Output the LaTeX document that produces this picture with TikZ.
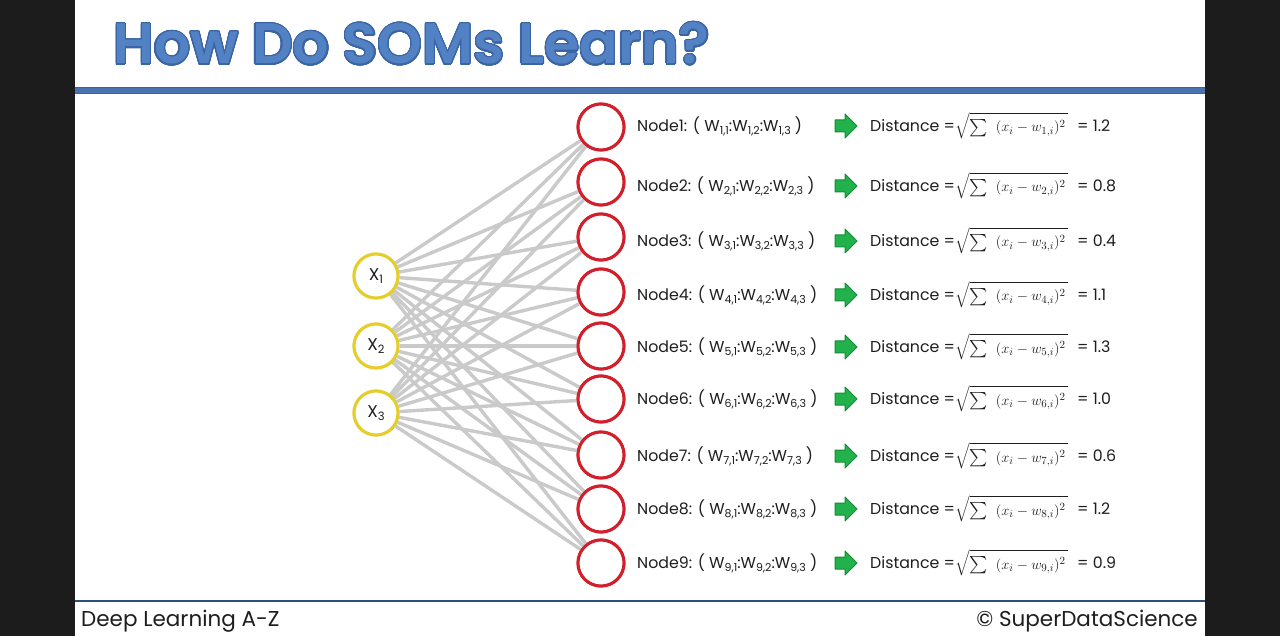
\documentclass[tikz,border=0pt]{standalone}
\usepackage{fontspec}
\usepackage{amsmath}
\usepackage{contour}
\setmainfont{Poppins}
\newfontfamily\titlefont{Poppins SemiBold}
\definecolor{titleblue}{HTML}{5282C4}
\definecolor{titleedge}{HTML}{3A64A3}
\definecolor{rulecol}{HTML}{4A73B2}
\definecolor{footrule}{HTML}{2F4E7E}
\definecolor{edgegrey}{HTML}{CACACA}
\definecolor{inyellow}{HTML}{E6CE2A}
\definecolor{outred}{HTML}{D21F2B}
\definecolor{arrgreen}{HTML}{22B24C}
\definecolor{arredge}{HTML}{188A37}
\definecolor{txt}{HTML}{1E1E1E}
\contourlength{1.2pt}
\contournumber{24}
\newcommand{\wsb}[1]{W\raisebox{-0.35ex}{\fontsize{11}{12}\selectfont #1}}
\newcommand{\xsb}[1]{X\raisebox{-0.4ex}{\fontsize{11.5}{12}\selectfont #1}}
\newcommand{\bigsum}{\mbox{\fontsize{19}{20}\selectfont$\sum$}}
\newcommand{\distf}[1]{$\sqrt{\vrule height 15pt depth 5pt width 0pt\bigsum\ \;(x_i - w_{#1,i})^2\,}$}
\tikzset{
  innode/.style={circle, draw=inyellow, line width=3pt, fill=white, minimum size=44pt, inner sep=0pt, font=\fontsize{17}{18}\selectfont, text=txt},
  outnode/.style={circle, draw=outred, line width=3pt, fill=white, minimum size=46pt, inner sep=0pt},
  link/.style={draw=edgegrey, line width=3.4pt},
  lbl/.style={anchor=west, inner sep=0pt, font=\fontsize{15.8}{17}\selectfont, text=txt},
  gar/.style={fill=arrgreen, draw=arredge, line width=1pt, line join=round}
}
\begin{document}
\begin{tikzpicture}[x=1pt,y=-1pt]
\useasboundingbox (0,0) rectangle (1280,636);
\fill[white] (0,0) rectangle (1280,636);
\fill[black!89] (0,0) rectangle (75,636);
\fill[black!89] (1205,0) rectangle (1280,636);
% title
\node[anchor=base west, inner sep=0pt, font=\titlefont\fontsize{57}{60}\selectfont] (title) at (113,64) {\contour{titleedge}{\textcolor{titleblue}{How Do SOMs Learn?}}};
% header rule
\fill[rulecol] (75,87.5) rectangle (1205,93);
\draw[titleedge, line width=0.8pt] (75,87.5) -- (1205,87.5);
\draw[titleedge, line width=0.8pt] (75,93) -- (1205,93);
% footer rule
\draw[footrule, line width=1.8pt] (75,601) -- (1205,601);
\node[anchor=west, inner sep=0pt, font=\fontsize{21.5}{23}\selectfont, text=txt] (foot1) at (81,621) {Deep Learning A-Z};
\node[anchor=east, inner sep=0pt, font=\fontsize{21.5}{23}\selectfont, text=txt] (foot2) at (1198,621) {\textcopyright{} SuperDataScience};
% input nodes
\node[innode] (x1) at (376,276) {\xsb{1}};
\node[innode] (x2) at (376,346) {\xsb{2}};
\node[innode] (x3) at (376,413) {\xsb{3}};
% output nodes and rows
\foreach \i/\ny/\ty/\d in {1/127/126/1.2, 2/182/186/0.8, 3/237/241/0.4, 4/292/295/1.1, 5/346/347/1.3, 6/399/399/1.0, 7/455/456/0.6, 8/509/509/1.2, 9/563/563/0.9}{
  \node[outnode] (n\i) at (601,\ny) {};
  \node[lbl] (lab\i) at (637,\ty) {Node\i: ( \wsb{\i,1}:\wsb{\i,2}:\wsb{\i,3} )};
  \draw[gar] (835,\ty-6) -- (845,\ty-6) -- (845,\ty-12) -- (857,\ty) -- (845,\ty+12) -- (845,\ty+6) -- (835,\ty+6) -- cycle;
  \node[lbl] (dist\i) at (870,\ty) {Distance =};
  \node[anchor=base west, inner sep=0pt, font=\fontsize{15.5}{17}\selectfont, text=txt] (form\i) at (955,\ty+6) {\distf{\i}};
  \node[lbl] (val\i) at (1077,\ty) {= \d};
}
% connections
\foreach \a in {1,2,3}{
  \foreach \b in {1,...,9}{
    \draw[link] (x\a) -- (n\b);
  }
}
% redraw nodes over links
\node[innode] at (x1) {\xsb{1}};
\node[innode] at (x2) {\xsb{2}};
\node[innode] at (x3) {\xsb{3}};
\foreach \i in {1,...,9}{ \node[outnode] at (n\i) {}; }
\end{tikzpicture}
\end{document}
